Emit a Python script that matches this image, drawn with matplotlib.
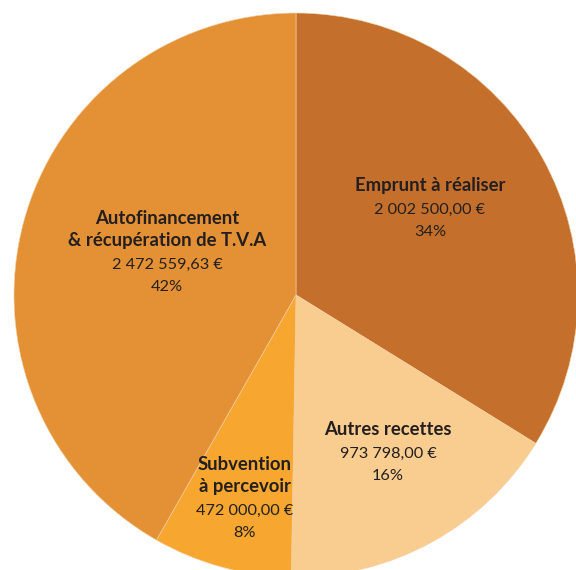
import matplotlib
matplotlib.use("Agg")
import matplotlib.pyplot as plt

# ---- data ----
categories = ["Emprunt à réaliser", "Autres recettes", "Subvention\nà percevoir",
              "Autofinancement\n& récupération de T.V.A"]
values = [2002500.00, 973798.00, 472000.00, 2472559.63]
colors = ["#C4702C", "#F9CC8F", "#F7A630", "#E49135"]

# label anchor (pixel centre x, first baseline y)
label_pos = [(430, 191), (388, 435), (245, 470), (167, 224)]

W, H = 576, 570
CX, CY, R = 296, 295, 282

fig = plt.figure(figsize=(W / 100, H / 100), dpi=100)
ax = fig.add_axes([0, 0, 1, 1])

ax.pie(values, colors=colors, startangle=90, counterclock=False, radius=1.0,
       center=(0, 0), wedgeprops=dict(edgecolor="#F3D2A8", linewidth=0.4),
       frame=True)
ax.set_xlim((0 - CX) / R, (W - CX) / R)
ax.set_ylim((CY - H) / R, CY / R)
ax.set_aspect("equal", adjustable="box")
ax.axis("off")

FONT = "Lato"
TXT = "#231F20"

renderer = fig.canvas.get_renderer()

def fit_size(s, weight, target_px):
    t = fig.text(0, 0, s, fontsize=10, fontweight=weight, family=FONT)
    w = t.get_window_extent(renderer).width
    t.remove()
    return 10 * target_px / w

bold_size = fit_size("Emprunt à réaliser", "bold", 151)
reg_size = fit_size("2 002 500,00 €", "normal", 110)

def fmt_eur(v):
    s = f"{v:,.2f}"
    s = s.replace(",", " ").replace(".", ",")
    return s + " €"

total = sum(values)
LS = 22.4
for cat, v, (px, py) in zip(categories, values, label_pos):
    lines = [(l, "bold") for l in cat.split("\n")]
    lines += [(fmt_eur(v), "normal"), (f"{round(v / total * 100)}%", "normal")]
    for i, (txt, wt) in enumerate(lines):
        y = py + i * LS
        fig.text(px / W, 1 - y / H, txt, ha="center", va="baseline",
                 fontsize=bold_size if wt == "bold" else reg_size,
                 fontweight=wt, family=FONT, color=TXT)

fig.savefig("out.png", dpi=100, facecolor="white")
